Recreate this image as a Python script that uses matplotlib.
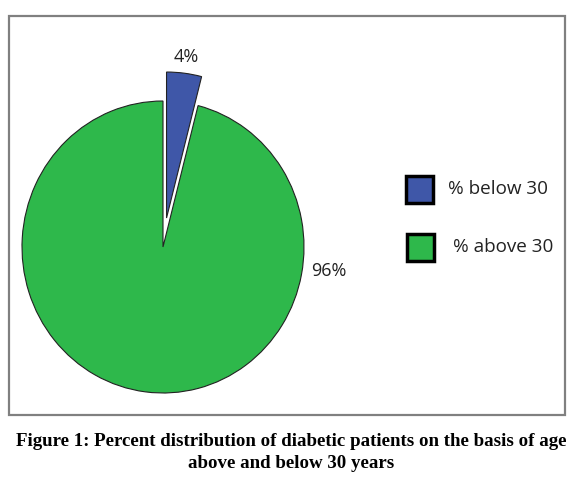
import matplotlib.pyplot as plt
from matplotlib.patches import Rectangle

# data
categories = ['% below 30', '% above 30']
values = [4, 96]
pct_labels = ['4%', '96%']
colors = ['#3F57A8', '#2EB84B']

W, H = 576, 482
fig = plt.figure(figsize=(W / 100, H / 100), dpi=100)


def fx(px):
    return px / W


def fy(py):
    return 1 - py / H


# outer frame
fig.patches.append(Rectangle((fx(9), fy(415)), fx(565) - fx(9), fy(16) - fy(415),
                             transform=fig.transFigure, fill=False,
                             edgecolor='#808080', linewidth=1.6))

# pie axes (slightly taller than wide like the original)
cx, cy, rx, ry = 163, 247, 141, 146
ax = fig.add_axes([fx(cx - rx), fy(cy + ry), (2 * rx) / W, (2 * ry) / H])
wedges, _ = ax.pie(values, colors=colors, startangle=90, counterclock=False,
                   explode=[0.2, 0], radius=1,
                   wedgeprops=dict(edgecolor='#222222', linewidth=0.8))
ax.set_aspect('auto')
ax.set_xlim(-1, 1)
ax.set_ylim(-1, 1)
ax.set_clip_on(False)
ax.axis('off')

font = ['Open Sans', 'DejaVu Sans']
ax.text((186 - cx) / rx, (cy - 57) / ry, pct_labels[0], ha='center', va='center',
        fontsize=13, family=font, color='#222222')
ax.text((329 - cx) / rx, (cy - 271) / ry, pct_labels[1], ha='center', va='center',
        fontsize=13, family=font, color='#222222')

# legend
leg_y = [189, 247]
leg_x = [419, 420]
txt_x = [448, 453]
for i, lab in enumerate(categories):
    s = 27
    fig.patches.append(Rectangle((fx(leg_x[i] - s / 2), fy(leg_y[i] + s / 2)), s / W, s / H,
                                 transform=fig.transFigure, facecolor=colors[i],
                                 edgecolor='black', linewidth=2.5))
    fig.text(fx(txt_x[i]), fy(leg_y[i]), lab, ha='left', va='center',
             fontsize=13.6, family=font, color='#222222')

# caption
fig.text(fx(291), fy(441), 'Figure 1: Percent distribution of diabetic patients on the basis of age',
         ha='center', va='center', fontsize=13.6, family='Liberation Serif', weight='bold')
fig.text(fx(291), fy(463), 'above and below 30 years',
         ha='center', va='center', fontsize=13.6, family='Liberation Serif', weight='bold')

fig.savefig('out.png', dpi=100)
